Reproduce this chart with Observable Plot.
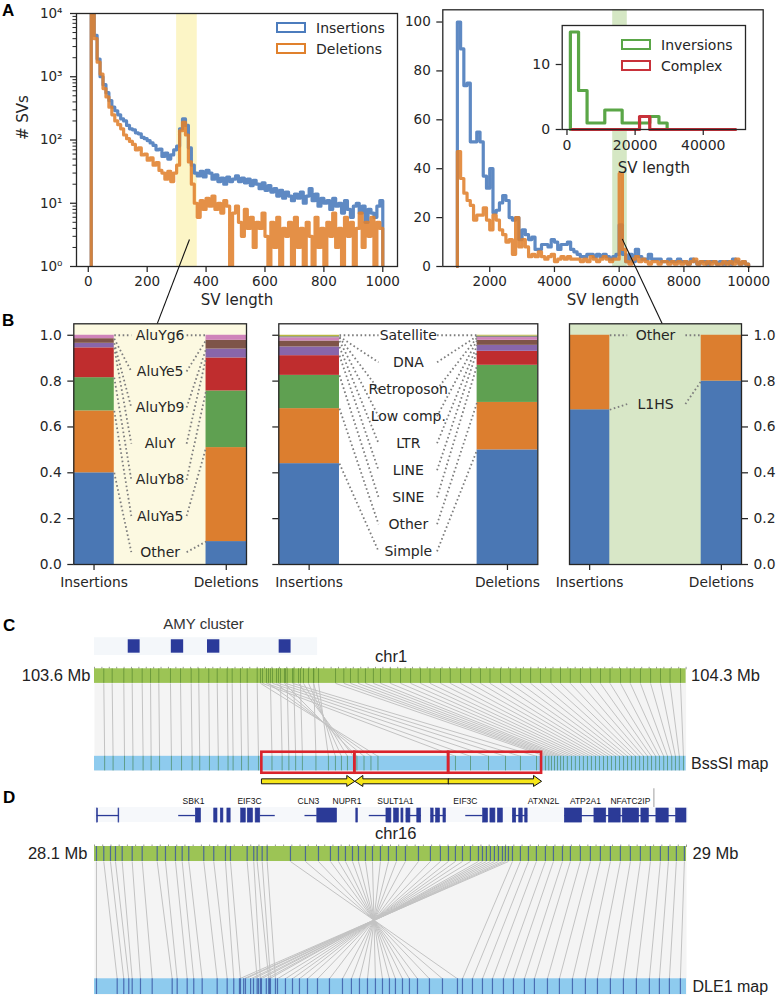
<!DOCTYPE html>
<html><head><meta charset="utf-8">
<script src="https://cdn.jsdelivr.net/npm/d3@7"></script>
<script src="https://cdn.jsdelivr.net/npm/@observablehq/plot@0.6"></script>
<style>
body{margin:0;background:#fff;}
#root{position:relative;width:777px;height:998px;overflow:hidden;font-family:"DejaVu Sans",sans-serif;color:#262626;}
.letter{position:absolute;font:bold 17px "Liberation Sans",Arial,sans-serif;color:#000;line-height:1;}
.lg{position:absolute;font:14px "DejaVu Sans",sans-serif;color:#262626;line-height:1;white-space:nowrap;}
.patch{position:absolute;box-sizing:border-box;border-width:2.5px;border-style:solid;background:transparent;}
</style></head><body><div id="root"></div>
<script>
// ================= DATA =================
// Panel A (left): SV length 10..1000, bins of 10
const shortBinWidth = 10;
const shortBinStart = d3.range(10, 1000, 10);
const insShort = [20000,4500,1900,1000,750,560,420,330,290,250,
 215,200,170,150,145,130,125,110,105,98,
 90,82,70,72,55,62,50,58,70,80,
 150,215,170,75,40,30,27,32,26,33,
 30,24,28,22,25,20,26,22,24,27,
 22,25,21,24,19,23,20,17,21,16,
 19,15,17,13,16,12,15,13,11,14,
 12,15,10,13,17,11,14,9,12,10,
 11,8,12,9,10,7,11,8,6,9,
 10,7,9,5,8,7,6,9,11];
const delShort = [20000,4000,1700,1100,650,480,330,250,200,175,
 150,120,105,95,85,70,75,58,60,48,
 52,40,44,33,30,24,32,22,30,40,
 140,190,120,45,20,10,6,11,8,12,
 9,13,8,10,7,11,9,1,7,9,
 5,3,8,4,6,2,5,4,7,3,
 1,5,2,6,1,4,3,5,1,6,
 2,4,1,5,3,1,6,2,4,1,
 5,3,7,2,4,1,6,3,5,1,
 4,7,2,5,3,6,1,5,4];
// Panel A (right): SV length 1000..10000, bins of 100
const longBinWidth = 100;
const longBinStart = d3.range(1000, 10000, 100);
const insLong = [100,89,74,75,51,51,55,51,37,32,
 40,22,23,26,29,27,20,19,20,11,
 15,13,11,12,7,7,9,9,8,11,
 10,7,9,9,10,7,6,5,4,4,
 5,5,4,5,4,5,4,3,4,5,
 17,5,2,5,2,7,4,3,3,5,
 3,3,3,2,2,3,2,2,3,2,
 2,1,3,2,1,2,2,1,2,2,
 1,2,1,2,1,3,2,1,2,1];
const delLong = [47,36,30,27,25,19,21,21,24,19,
 15,21,19,15,13,10,11,5,20,8,
 11,8,4,5,4,6,4,3,4,5,
 2,3,4,3,4,3,3,3,2,3,
 2,4,3,2,3,4,3,2,3,3,
 38,7,2,1,3,4,2,3,2,1,
 2,2,1,2,2,1,2,1,2,1,
 2,1,2,3,1,2,1,2,1,2,
 1,1,2,1,2,1,3,1,2,1];
// Inset: inversions & complex
const invEdges = [1000,3400,5900,11100,16200,24300,27000,29400];
const invCounts = [15,6,1,3,1,2,1];
const cpxEdges = [1500,21300,24300,49500];
const cpxCounts = [0,2,0];
// Highlight bands
const aluBand = [300, 370];
const l1Band = [5800, 6250];

// Panel B
const groups = ["Insertions", "Deletions"];
const aluCats = ["Other","AluYa5","AluYb8","AluY","AluYb9","AluYe5","AluYg6"];
const aluIns = [0.40,0.27,0.145,0.13,0.02,0.02,0.015];
const aluDel = [0.10,0.41,0.247,0.144,0.039,0.038,0.022];
const repCats = ["Simple","Other","SINE","LINE","LTR","Low comp.","Retroposon","DNA","Satellite"];
const repIns = [0.44,0.24,0.145,0.086,0.038,0.026,0.014,0.005,0.006];
const repDel = [0.50,0.207,0.162,0.061,0.026,0.022,0.012,0.006,0.004];
const l1Cats = ["L1HS","Other"];
const l1Ins = [0.675,0.325];
const l1Del = [0.80,0.20];
const PAL = ["#4a77b4","#dc7e2f","#5fa051","#bf2d2e","#8866aa","#7e5448","#cf83ba","#8a8a8a","#b8b840"];

// Panel C (kb from 103.6 Mb)
const cRef = [11,20.9,34.7,44.6,56.4,66.3,76.1,89.9,101.8,114.4,123.4,135.2,145.2,157,162.9,172.7,180.7,192.5,
 208.2,220.1,228,235.8,243.7,259.5,
 241.4,247.3,253.2,259.1,265.1,
 196.4,205.9,215.4,224.8,
 198.8,203.5,210.6,217.7,226,234.3,
 285.2,295,302.9,312,320.6,330,338.4,350,362.1,374,385.7,397,409.4,421,433.1,445,456.7,468,480.4,492,504,516,527.7,540,551.4,563,575,587,598.7,610,622.4,634,646,658,669.7,681,693.4];
const cMap = [12,22,35.5,45.5,57.5,67,77,91,103,115.5,124.5,136,146.5,158,164,174,182,194,
 210,222,230,238,246,262,
 306.4,299.3,292.2,285.1,276.8,
 335.4,327.1,318.9,310.5,
 427.1,444.9,466.2,486.3,504,523,
 533.6,537.5,540.7,544.3,547.8,551.5,554.9,559.5,564.4,569,573.9,578.5,583.3,588,592.8,597.5,602.3,607,611.7,616.5,621.2,626,630.7,635.5,640.1,645,649.6,654.5,659.1,664,668.5,673.5,678,683,687.4,692,696.9];
const amyStart = [39.9,90.9,133.7,218.5];
const amyEnd = [54,105.5,148.3,232.6];
const dupStart = [198,308,419];
const dupEnd = [308,419,529];
const dupDir = [1,-1,1];

// Panel D (kb from 28.1 Mb)
const dRef = [3,14.1,24.3,31.9,42.1,57.3,72.5,95.3,107.9,123.1,133.3,143.3,166.1,181.3,199.1,206.7,232.1,242.1,247.3,254.9,262.5,
 297.9,320.7,340.5,358.7,370.9,381.5,392.2,401.3,411.9,422.6,434.7,446.9,459,472.7,492.5,510.7,525.9,538.1,548.7,559.4,571.5,583.7,589.8,595.8,601.9,608,614.1,620.2,624.7,629.3,
 635.4,647.5,659.7,671.8,685.5,697.7,711.4,723.5,738.7,753.9,769.1,784.3,799.5,814.7,829.9,845.1,860.3,872.5,884.6,896.8];
const dMap = [3,34.5,44.5,52.1,57.3,69.9,87.7,118.1,125.7,140.9,150.9,163.7,186.5,201.7,211.7,221.9,247.3,252.3,264.9,267.5,275.1,
 551.8,529,509.2,491,478.8,468.2,457.5,448.4,437.8,427.1,415,402.8,390.6,377,357.2,339,323.8,311.6,301,290.3,278.2,266,261.2,253.8,249.3,241.7,237.3,229.5,226.8,220.4,
 559.4,574.6,589.8,605,621.7,636.9,653.6,668.8,688.6,706.8,726.6,746.3,764.6,784.3,804.1,823.8,843.6,858.8,874,890.7];
const exonStart = [3.8,36.5,154,182,192,202,223,233,245,338.7,398,443.8,455.4,466.6,474.2,490.7,511.8,519.2,530.5,590.8,601.9,613.3,636,645.7,654.8,715,760,782,803,831.4,854.2,884.2];
const exonEnd = [5.3,37.7,162,187,196,207,230,241,252,368.8,400.5,451.4,462.8,469.7,480.3,496.7,515.6,525.3,534.3,598.3,609.5,620.9,641.1,651,658.5,741.3,778,800,828,842.8,873,900];
const intronStart = [3.8,128,252,320,417.7,474,511.8,564.4,636,715];
const intronEnd = [37.7,154,274.8,338.7,443.8,497,534.3,590.8,658.5,900];
const geneNames = ["SBK1","EIF3C","CLN3","NUPR1","SULT1A1","EIF3C","ATXN2L","ATP2A1","NFATC2IP"];
const geneNameKb = [150.5,235.6,325.3,383.8,457.5,563.9,682.5,746.3,814.7];

// ================= HELPERS =================
const FONT = '"DejaVu Sans", sans-serif';
const ARIAL = '"Liberation Sans", Arial, sans-serif';
const TXT = "#262626";
const BLUE = "#4c7cbd", ORANGE = "#e0812d", GREEN = "#5aa647", RED = "#c8313a";
const plain = d => String(d);
const root = document.getElementById("root");
function put(node, left, top) {
  node.style.position = "absolute"; node.style.left = left + "px"; node.style.top = top + "px";
  root.appendChild(node);
}
function stepFromEdges(edges, counts, floor) {
  const pts = [{x: edges[0], y: floor}];
  counts.forEach((c, i) => { pts.push({x: edges[i], y: c}, {x: edges[i + 1], y: c}); });
  pts.push({x: edges[edges.length - 1], y: floor});
  return pts;
}
function regularEdges(starts, w) { return starts.concat([starts[starts.length - 1] + w]); }
function baseStyle(extra) {
  return Object.assign({fontFamily: FONT, fontSize: "13.5px", color: TXT, background: "transparent", overflow: "visible"}, extra || {});
}
const SUP = ["\u2070","\u00b9","\u00b2","\u00b3","\u2074"];
const decades = [1, 10, 100, 1000, 10000];
const minorLog = decades.slice(0, 4).flatMap(p => [2,3,4,5,6,7,8,9].map(k => k * p));
const HIST_W = 3.2;

// ================= PANEL A LEFT =================
const aLeft = Plot.plot({
  width: 400, height: 310, marginLeft: 76, marginRight: 3, marginTop: 13, marginBottom: 44,
  style: baseStyle(),
  x: {domain: [-40, 1050], label: null},
  y: {type: "log", domain: [1, 10000], label: null},
  marks: [
    Plot.rect([aluBand], {x1: d => d[0], x2: d => d[1], y1: 1, y2: 10000, fill: "#fcf5c6"}),
    Plot.line(stepFromEdges(regularEdges(shortBinStart, shortBinWidth), insShort, 1),
      {x: "x", y: "y", stroke: BLUE, strokeWidth: HIST_W, strokeOpacity: 0.9, clip: true}),
    Plot.line(stepFromEdges(regularEdges(shortBinStart, shortBinWidth), delShort, 1),
      {x: "x", y: "y", stroke: ORANGE, strokeWidth: HIST_W, strokeOpacity: 0.88, clip: true}),
    Plot.axisY({ticks: decades, tickFormat: d => "10" + SUP[Math.round(Math.log10(d))], tickSize: 6, tickPadding: 8, strokeWidth: 1.25, label: null}),
    Plot.axisY({ticks: minorLog, tickFormat: () => "", tickSize: 3.5, strokeWidth: 1, label: null}),
    Plot.axisX({ticks: [0,200,400,600,800,1000], tickFormat: plain, tickSize: 6, tickPadding: 4, strokeWidth: 1.25, label: null}),
    Plot.frame({stroke: TXT, strokeWidth: 1.3}),
    Plot.text(["# SVs"], {text: d => d, frameAnchor: "left", dx: -53, rotate: -90, fontSize: 15}),
    Plot.text(["SV length"], {text: d => d, frameAnchor: "bottom", dy: 38, fontSize: 15}),
    Plot.link([{x1: 343.6, y1: 2.67, x2: 234, y2: 0.124}], {x1: "x1", y1: "y1", x2: "x2", y2: "y2", stroke: "#111", strokeWidth: 1.1})
  ]
});
put(aLeft, 0, 0);

// ================= PANEL A RIGHT =================
const aRight = Plot.plot({
  width: 377, height: 310, marginLeft: 42.3, marginRight: 14.3, marginTop: 9.3, marginBottom: 44,
  style: baseStyle(),
  x: {domain: [550, 10450], label: null},
  y: {domain: [0, 105], label: null},
  marks: [
    Plot.rect([l1Band], {x1: d => d[0], x2: d => d[1], y1: 0, y2: 105, fill: "#d5e7c4"}),
    Plot.line(stepFromEdges(regularEdges(longBinStart, longBinWidth), insLong, 0),
      {x: "x", y: "y", stroke: BLUE, strokeWidth: HIST_W, strokeOpacity: 0.9}),
    Plot.line(stepFromEdges(regularEdges(longBinStart, longBinWidth), delLong, 0),
      {x: "x", y: "y", stroke: ORANGE, strokeWidth: HIST_W, strokeOpacity: 0.88}),
    Plot.axisY({ticks: [0,20,40,60,80,100], tickFormat: plain, tickSize: 6, tickPadding: 6, strokeWidth: 1.25, label: null}),
    Plot.axisX({ticks: [2000,4000,6000,8000,10000], tickFormat: plain, tickSize: 6, tickPadding: 4, strokeWidth: 1.25, label: null}),
    Plot.frame({stroke: TXT, strokeWidth: 1.3}),
    Plot.text(["SV length"], {text: d => d, frameAnchor: "bottom", dy: 38, fontSize: 15}),
    Plot.link([{x1: 6094, y1: 11.3, x2: 7330, y2: -23.4}], {x1: "x1", y1: "y1", x2: "x2", y2: "y2", stroke: "#111", strokeWidth: 1.1})
  ]
});
put(aRight, 400, 0);

// ================= INSET =================
const inset = Plot.plot({
  width: 277, height: 180, marginLeft: 61.7, marginRight: 32, marginTop: 25, marginBottom: 51,
  style: baseStyle({fontSize: "14px"}),
  x: {domain: [-1400, 52400], label: null},
  y: {domain: [0, 16], label: null},
  marks: [
    Plot.frame({fill: "white"}),
    Plot.line(stepFromEdges(invEdges, invCounts, 0), {x: "x", y: "y", stroke: GREEN, strokeWidth: HIST_W}),
    Plot.line(stepFromEdges(cpxEdges, cpxCounts, 0), {x: "x", y: "y", stroke: RED, strokeWidth: HIST_W}),
    Plot.axisY({ticks: [0, 10], tickFormat: plain, tickSize: 6, tickPadding: 6, strokeWidth: 1.25, label: null}),
    Plot.axisX({ticks: [0, 20000, 40000], tickFormat: plain, tickSize: 6, tickPadding: 5, strokeWidth: 1.25, label: null}),
    Plot.frame({stroke: TXT, strokeWidth: 1.3}),
    Plot.text(["SV length"], {text: d => d, frameAnchor: "bottom", dy: 43, fontSize: 15})
  ]
});
put(inset, 500, 0);

// legends (HTML)
function legendItem(label, color, px, py, tx) {
  const p = document.createElement("div"); p.className = "patch";
  p.style.left = px + "px"; p.style.top = py + "px"; p.style.width = "30px"; p.style.height = "11px";
  p.style.borderColor = color; root.appendChild(p);
  const t = document.createElement("div"); t.className = "lg"; t.textContent = label;
  t.style.left = tx + "px"; t.style.top = (py - 1) + "px"; root.appendChild(t);
}
legendItem("Insertions", BLUE, 276, 21.5, 316);
legendItem("Deletions", ORANGE, 276, 43, 316);
legendItem("Inversions", GREEN, 621, 39.3, 661);
legendItem("Complex", RED, 621, 60, 661);

// ================= PANEL B =================
const HW = 0.153;
function stackPanel(o) {
  const rects = [];
  [o.ins, o.del].forEach((vals, i) => {
    let acc = 0;
    vals.forEach((v, j) => { rects.push({x1: i - HW, x2: i + HW, y1: acc, y2: acc + v, c: o.cats[j]}); acc += v; });
  });
  const cumIns = d3.cumsum(o.ins), cumDel = d3.cumsum(o.del);
  const n = o.cats.length;
  const labels = o.cats.map((c, j) => ({c, y: 1 - (n - 1 - j) * o.step}));
  const links = [];
  labels.forEach((l, j) => {
    links.push({x1: HW, y1: cumIns[j], x2: o.lx1, y2: l.y});
    links.push({x1: o.lx2, y1: l.y, x2: 1 - HW, y2: cumDel[j]});
  });
  return Plot.plot({
    width: o.width, height: 300, marginLeft: o.ml, marginRight: o.mr, marginTop: 23.3, marginBottom: 36,
    style: baseStyle({fontSize: "13.8px"}),
    x: {domain: [-HW, 1 + HW], label: null},
    y: {domain: [0, 1.05], label: null},
    color: {domain: o.cats, range: PAL.slice(0, n)},
    marks: [
      Plot.frame({fill: o.bg}),
      Plot.rect(rects, {x1: "x1", x2: "x2", y1: "y1", y2: "y2", fill: "c"}),
      Plot.link(links, {x1: "x1", y1: "y1", x2: "x2", y2: "y2", stroke: "#7d7d7d", strokeWidth: 1.8, strokeDasharray: "1.6,2.6"}),
      Plot.text(labels, {x: 0.5, y: "y", text: "c", fontSize: 14, fill: TXT}),
      Plot.axisX({ticks: [0, 1], tickFormat: i => groups[i], tickSize: 6, tickPadding: 7, strokeWidth: 1.25, label: null}),
      Plot.axisY({anchor: o.yAnchor, ticks: [0, 0.2, 0.4, 0.6, 0.8, 1.0], tickFormat: o.yLabels ? d3.format(".1f") : () => "",
        tickSize: 6, tickPadding: 6, strokeWidth: 1.25, label: null}),
      Plot.frame({stroke: TXT, strokeWidth: 1.3})
    ]
  });
}
put(stackPanel({width: 250, ml: 73.3, mr: 4, bg: "#fcf9e1", cats: aluCats, ins: aluIns, del: aluDel,
  step: 0.1577, lx1: 0.282, lx2: 0.70, yAnchor: "left", yLabels: true}), 0, 300);
put(stackPanel({width: 300, ml: 28.3, mr: 12.7, bg: "white", cats: repCats, ins: repIns, del: repDel,
  step: 0.1178, lx1: 0.35, lx2: 0.645, yAnchor: "left", yLabels: false}), 250, 300);
put(stackPanel({width: 227, ml: 19, mr: 36, bg: "#d8e7c7", cats: l1Cats, ins: l1Ins, del: l1Del,
  step: 0.30, lx1: 0.285, lx2: 0.727, yAnchor: "right", yLabels: true}), 550, 300);

// ================= PANEL C =================
const cPairs = cRef.map((r, i) => ({r, m: cMap[i]})).filter(d => d.m !== undefined);
const dups = dupStart.map((s, i) => ({s, e: dupEnd[i], dir: dupDir[i]}));
// block arrows below duplicated segments
const HEAD = 9.5, BT = 1.309, BB = 1.377, HT = 1.262, HB = 1.413, MID = 1.343;
const arrowPts = dups.flatMap((d, i) => {
  const tip = d.dir > 0 ? d.e : d.s, tail = d.dir > 0 ? d.s : d.e, neck = tip - d.dir * HEAD;
  return [[tail, BT], [neck, BT], [neck, HT], [tip, MID], [neck, HB], [neck, BB], [tail, BB]].map(([x, y]) => ({id: i, x, y}));
});
const amy = amyStart.map((s, i) => ({s, e: amyEnd[i]}));
const cPlot = Plot.plot({
  width: 777, height: 190, marginLeft: 94, marginRight: 91.4, marginTop: 68.3, marginBottom: 19.6,
  style: baseStyle({fontFamily: ARIAL}),
  x: {domain: [0, 700], label: null},
  y: {domain: [-0.2, 1.2], reverse: true, axis: null},
  marks: [
    Plot.frame({fill: "#f4f4f4"}),
    Plot.rect([{}], {x1: 0, x2: 264, y1: -0.626, y2: -0.383, fill: "#f4f7fa"}),
    Plot.rect(amy, {x1: "s", x2: "e", y1: -0.598, y2: -0.414, fill: "#2b3a9a"}),
    Plot.text(["AMY cluster"], {text: d => d, x: 129, y: -0.808, fontSize: 15, fill: "#333"}),
    Plot.text(["chr1"], {text: d => d, x: 351, y: -0.36, fontSize: 16.5, fill: "#222"}),
    Plot.axisX({anchor: "top", ticks: d3.range(0, 701, 8.75), tickSize: 2.5, tickFormat: () => "", stroke: "#9a9a9a", label: null}),
    Plot.link(cPairs, {x1: "r", y1: 0, x2: "m", y2: 1, stroke: "#c3c3c3", strokeWidth: 1}),
    Plot.rect([{}], {x1: 0, x2: 700, y1: -0.2, y2: 0, fill: "#9cc455"}),
    Plot.ruleX(cRef, {y1: -0.2, y2: 0, stroke: "#5e8d34", strokeOpacity: 0.75}),
    Plot.rect([{}], {x1: 0, x2: 700, y1: 1, y2: 1.2, fill: "#8ecbee"}),
    Plot.ruleX(cMap, {y1: 1, y2: 1.2, stroke: "#4f8f6a", strokeOpacity: 0.75}),
    Plot.rect(dups, {x1: "s", x2: "e", y1: 0.944, y2: 1.232, fill: "none", stroke: "#d9232c", strokeWidth: 2.6}),
    Plot.line(arrowPts, {x: "x", y: "y", z: "id", fill: "#f6e61a", stroke: "#111", strokeWidth: 1, curve: "linear-closed"}),
    Plot.text(["103.6 Mb"], {text: d => d, x: 0, y: -0.1, dx: -4, textAnchor: "end", fontSize: 16.5, fill: "#222"}),
    Plot.text(["104.3 Mb"], {text: d => d, x: 700, y: -0.1, dx: 5, textAnchor: "start", fontSize: 16.5, fill: "#222"}),
    Plot.text(["BssSI map"], {text: d => d, x: 700, y: 1.1, dx: 5, textAnchor: "start", fontSize: 16, fill: "#222"})
  ]
});
put(cPlot, 0, 600);

// ================= PANEL D =================
const dPairs = dRef.map((r, i) => ({r, m: dMap[i]})).filter(d => d.m !== undefined);
const exons = exonStart.map((s, i) => ({s, e: exonEnd[i]}));
const introns = intronStart.map((s, i) => ({s, e: intronEnd[i]}));
const names = geneNames.map((g, i) => ({g, x: geneNameKb[i]}));
const dPlot = Plot.plot({
  width: 777, height: 210, marginLeft: 94, marginRight: 91, marginTop: 58, marginBottom: 4,
  style: baseStyle({fontFamily: ARIAL}),
  x: {domain: [0, 900], label: null},
  y: {domain: [-0.128, 1.134], reverse: true, axis: null},
  marks: [
    Plot.frame({fill: "#f4f4f4"}),
    Plot.rect([{}], {x1: 116.3, x2: 850.4, y1: -0.605, y2: -0.46, fill: "#ffffff"}),
    Plot.rect([{}], {x1: 0, x2: 903, y1: -0.46, y2: -0.332, fill: "#f6f8fb"}),
    Plot.ruleX([850.4], {y1: -0.62, y2: -0.46, stroke: "#b0b0b0", strokeWidth: 1.2}),
    Plot.ruleY(introns, {y: -0.392, x1: "s", x2: "e", stroke: "#2b3a97", strokeWidth: 1.3}),
    Plot.rect(exons, {x1: "s", x2: "e", y1: -0.452, y2: -0.332, fill: "#2b3a97", stroke: "#2b3a97", strokeWidth: 0.6}),
    Plot.text(names, {x: "x", y: -0.511, text: "g", fontSize: 8.5, fill: "#111"}),
    Plot.text(["chr16"], {text: d => d, x: 458, y: -0.241, fontSize: 16.5, fill: "#222"}),
    Plot.axisX({anchor: "top", ticks: d3.range(0, 901, 12.5), tickSize: 2.5, tickFormat: () => "", stroke: "#9a9a9a", label: null}),
    Plot.link(dPairs, {x1: "r", y1: 0, x2: "m", y2: 1, stroke: "#c3c3c3", strokeWidth: 1}),
    Plot.rect([{}], {x1: 0, x2: 900, y1: -0.128, y2: 0, fill: "#9cc455"}),
    Plot.ruleX(dRef, {y1: -0.128, y2: 0, stroke: "#3a55a3", strokeOpacity: 0.8, strokeWidth: 1.2}),
    Plot.rect([{}], {x1: 0, x2: 900, y1: 1, y2: 1.134, fill: "#8ecbee"}),
    Plot.ruleX(dMap, {y1: 1, y2: 1.134, stroke: "#3a55a3", strokeOpacity: 0.8, strokeWidth: 1.2}),
    Plot.text(["28.1 Mb"], {text: d => d, x: 0, y: -0.064, dx: -7, textAnchor: "end", fontSize: 16.5, fill: "#222"}),
    Plot.text(["29 Mb"], {text: d => d, x: 900, y: -0.064, dx: 6, textAnchor: "start", fontSize: 16.5, fill: "#222"}),
    Plot.text(["DLE1 map"], {text: d => d, x: 900, y: 1.067, dx: 6, textAnchor: "start", fontSize: 16, fill: "#222"})
  ]
});
put(dPlot, 0, 788);

// panel letters
[["A", 2, 2], ["B", 2, 312], ["C", 3, 617], ["D", 3, 789]].forEach(([t, x, y]) => {
  const d = document.createElement("div"); d.className = "letter"; d.textContent = t;
  d.style.left = x + "px"; d.style.top = y + "px"; root.appendChild(d);
});
</script></body></html>
